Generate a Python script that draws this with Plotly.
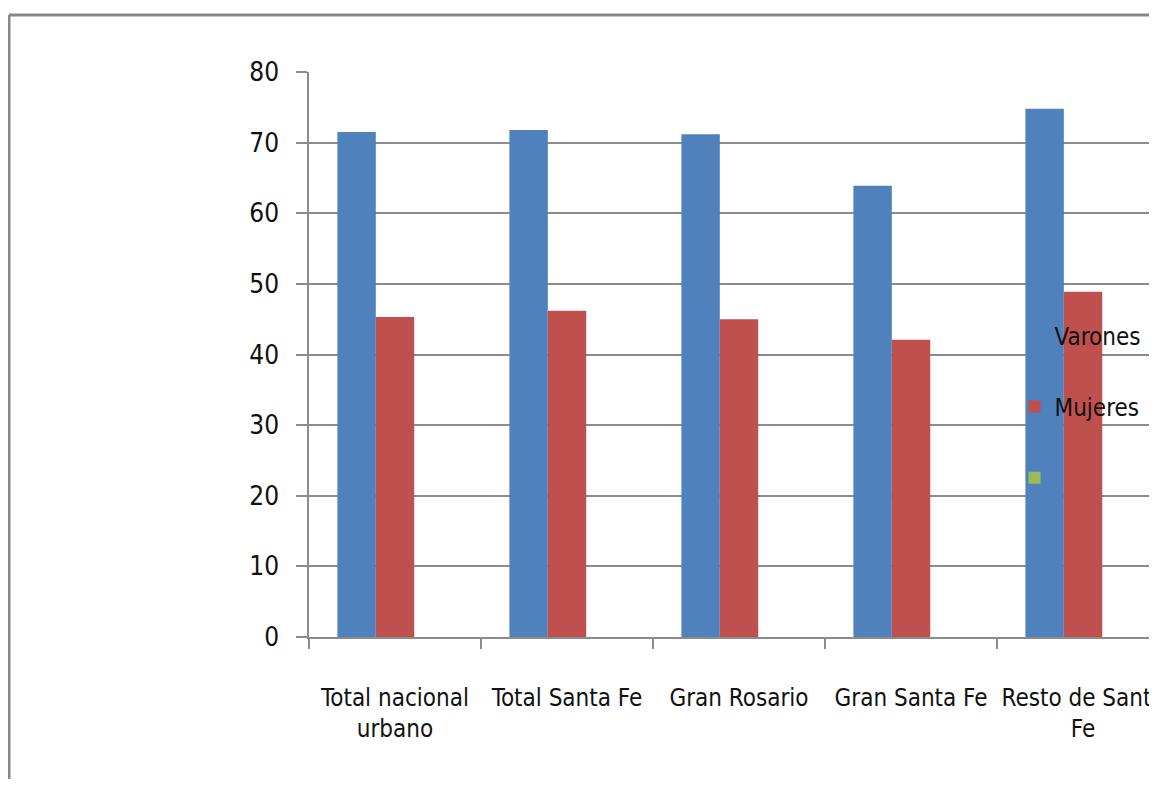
import plotly.graph_objects as go

categories = ["Total nacional<br>urbano", "Total Santa Fe", "Gran Rosario", "Gran Santa Fe", "Resto de Santa<br>Fe"]
varones = [71.5, 71.8, 71.2, 63.9, 74.8]
mujeres = [45.3, 46.2, 45.0, 42.1, 48.9]
serie3 = [None, None, None, None, None]
y_ticks = [0, 10, 20, 30, 40, 50, 60, 70, 80]

FONT = "Liberation Sans Narrow, DejaVu Sans Condensed, Roboto Condensed, Liberation Sans, sans-serif"
GRID = "#8c8c8c"

L, T, W, H, B = 301, 64, 848, 565, 142

fig = go.Figure()
fig.add_trace(go.Bar(x=categories, y=varones, name="Varones", marker_color="#4F81BD",
                     marker_line_width=0, legendgroup="a"))
fig.add_trace(go.Bar(x=categories, y=mujeres, name="Mujeres", marker_color="#C0504D",
                     marker_line_width=0, legendgroup="b"))
fig.add_trace(go.Bar(x=categories, y=serie3, name=" ", marker_color="#9BBB59",
                     marker_line_width=0, legendgroup="c"))

fig.update_layout(
    width=L + W, height=T + H + B,
    margin=dict(l=L, r=0, t=T, b=B, autoexpand=False),
    paper_bgcolor="white", plot_bgcolor="white",
    barmode="group", bargap=0.33, bargroupgap=0,
    font=dict(family=FONT, size=24, color="#111111"),
    showlegend=True,
    legend=dict(x=0.832, y=0.573, xanchor="left", yanchor="top",
                bgcolor="rgba(0,0,0,0)", tracegroupgap=37,
                font=dict(family=FONT, size=24, color="#111111")),
    xaxis=dict(range=[-0.5, 4.43], tickson="boundaries", ticks="outside", ticklen=10,
               tickcolor=GRID, tickwidth=1.5, showline=True, linecolor=GRID, linewidth=1.5,
               showgrid=False, ticklabelstandoff=38, tickangle=0, automargin=False,
               tickfont=dict(size=24)),
    yaxis=dict(range=[0, 80], tickvals=y_ticks, ticks="outside", ticklen=11,
               tickcolor=GRID, tickwidth=1.5, showline=True, linecolor=GRID, linewidth=1.5,
               showgrid=True, gridcolor=GRID, gridwidth=1.5, zeroline=False, automargin=False,
               ticklabelstandoff=12, tickfont=dict(size=26)),
    shapes=[
        dict(type="line", xref="paper", yref="paper", x0=(1 - L) / W, x1=1.05,
             y0=(T + H - 7) / H, y1=(T + H - 7) / H, line=dict(color="#888888", width=3)),
        dict(type="line", xref="paper", yref="paper", x0=(1 - L) / W, x1=(1 - L) / W,
             y0=(T + H - 7) / H, y1=-0.5, line=dict(color="#888888", width=3)),
    ],
)

fig.write_html("out.html")
